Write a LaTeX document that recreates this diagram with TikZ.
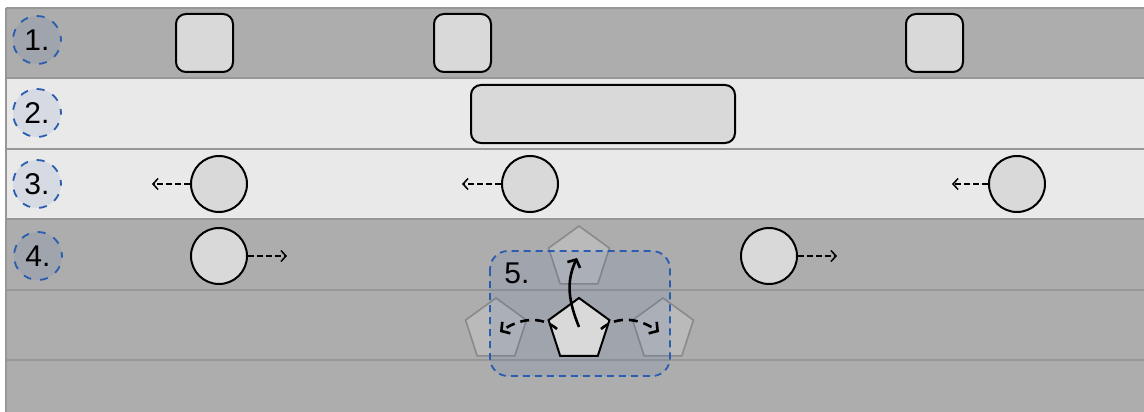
\documentclass[tikz,border=0pt]{standalone}
\usepackage{fontspec}
\setmainfont{Liberation Sans}
\usetikzlibrary{shapes.geometric,arrows.meta}
\definecolor{lanedark}{HTML}{ADADAD}
\definecolor{lanelight}{HTML}{E9E9E9}
\definecolor{laneline}{HTML}{979797}
\definecolor{nodefill}{HTML}{D9D9D9}
\definecolor{hintblue}{HTML}{2A5DB0}
\definecolor{ghostline}{HTML}{8A8A8A}
\tikzset{
  laneborder/.style={draw=laneline, line width=2.4pt},
  sqbox/.style={draw=black, line width=2pt, fill=nodefill, rounded corners=10pt, minimum width=57pt, minimum height=58pt, inner sep=0pt},
  widebox/.style={draw=black, line width=2pt, fill=nodefill, rounded corners=10pt, minimum width=264pt, minimum height=58pt, inner sep=0pt},
  circnode/.style={circle, draw=black, line width=2pt, fill=nodefill, minimum size=56pt, inner sep=0pt},
  numlabel/.style={circle, draw=hintblue, line width=1.8pt, dash pattern=on 8pt off 9pt, dash phase=4pt, fill=hintblue, fill opacity=0.1, text opacity=1, minimum size=48pt, inner sep=0pt, font=\fontsize{30}{32}\selectfont},
  thinarrow/.style={draw=black, line width=1.5pt, dash pattern=on 6pt off 3pt, -{Straight Barb[length=5pt,width=11pt]}},
  pent/.style={regular polygon, regular polygon sides=5, minimum size=64pt, inner sep=0pt},
  ghost/.style={pent, draw=ghostline, line width=1.6pt, fill=nodefill, fill opacity=0.3},
  mainpent/.style={pent, draw=black, line width=2pt, fill=nodefill},
  bigarrow/.style={draw=black, line width=2.6pt, -{Straight Barb[length=6pt,width=14pt]}},
}
\begin{document}
\begin{tikzpicture}[x=1pt,y=1pt]
\useasboundingbox (0,0) rectangle (1144,-412);
\fill[white] (0,0) rectangle (1144,-412);
% lanes
\fill[lanedark] (6,-8) rectangle (1144,-78);
\fill[lanelight] (6,-78) rectangle (1144,-149);
\fill[lanelight] (6,-149) rectangle (1144,-219);
\fill[lanedark] (6,-219) rectangle (1144,-412);
\foreach \yy in {8,78,149,219,290,360} {
  \draw[laneborder] (6,-\yy) -- (1144,-\yy);
}
\draw[laneborder] (6,-8) -- (6,-412);
% labels
\node[numlabel] (l1) at (37,-40) {1.};
\node[numlabel] (l2) at (37,-113) {2.};
\node[numlabel] (l3) at (37,-184) {3.};
\node[numlabel] (l4) at (38,-256) {4.};
% row 1
\node[sqbox] (s1) at (204.5,-43) {};
\node[sqbox] (s2) at (462.5,-43) {};
\node[sqbox] (s3) at (934.5,-43) {};
% row 2
\node[widebox] (w1) at (603,-114) {};
% row 3
\node[circnode] (c1) at (219,-184) {};
\node[circnode] (c2) at (530,-184) {};
\node[circnode] (c3) at (1017,-184) {};
\coordinate (e1) at (152,-184);
\coordinate (e2) at (462,-184);
\coordinate (e3) at (952,-184);
\draw[thinarrow] (c1.west) -- (e1);
\draw[thinarrow] (c2.west) -- (e2);
\draw[thinarrow] (c3.west) -- (e3);
% row 4
\node[circnode] (d1) at (219,-256) {};
\node[circnode] (d2) at (769,-256) {};
\coordinate (f1) at (287,-256);
\coordinate (f2) at (837,-256);
\draw[thinarrow] (d1.east) -- (f1);
\draw[thinarrow] (d2.east) -- (f2);
% region 5
\node[ghost] (gt) at (579,-258) {};
\node[ghost] (gl) at (496,-330) {};
\node[ghost] (gr) at (663,-330) {};
\draw[draw=hintblue, line width=1.8pt, dash pattern=on 7pt off 5pt, fill=hintblue, fill opacity=0.1, rounded corners=18pt] (490,-251) rectangle (670,-376);
\node[font=\fontsize{30}{32}\selectfont, anchor=center] (l5) at (517,-273) {5.};
\node[mainpent] (mp) at (579,-330) {};
\coordinate (tt) at (577,-258);
\coordinate (ls) at (557,-329);
\coordinate (lt) at (500,-332);
\coordinate (rs) at (601,-329);
\coordinate (rt) at (659,-332);
\draw[bigarrow] (mp.center) ++(0,3) to[out=112,in=245] (tt);
\draw[bigarrow, dash pattern=on 9pt off 6pt] (ls) to[out=140,in=35] (lt);
\draw[bigarrow, dash pattern=on 9pt off 6pt] (rs) to[out=40,in=145] (rt);
\end{tikzpicture}
\end{document}
